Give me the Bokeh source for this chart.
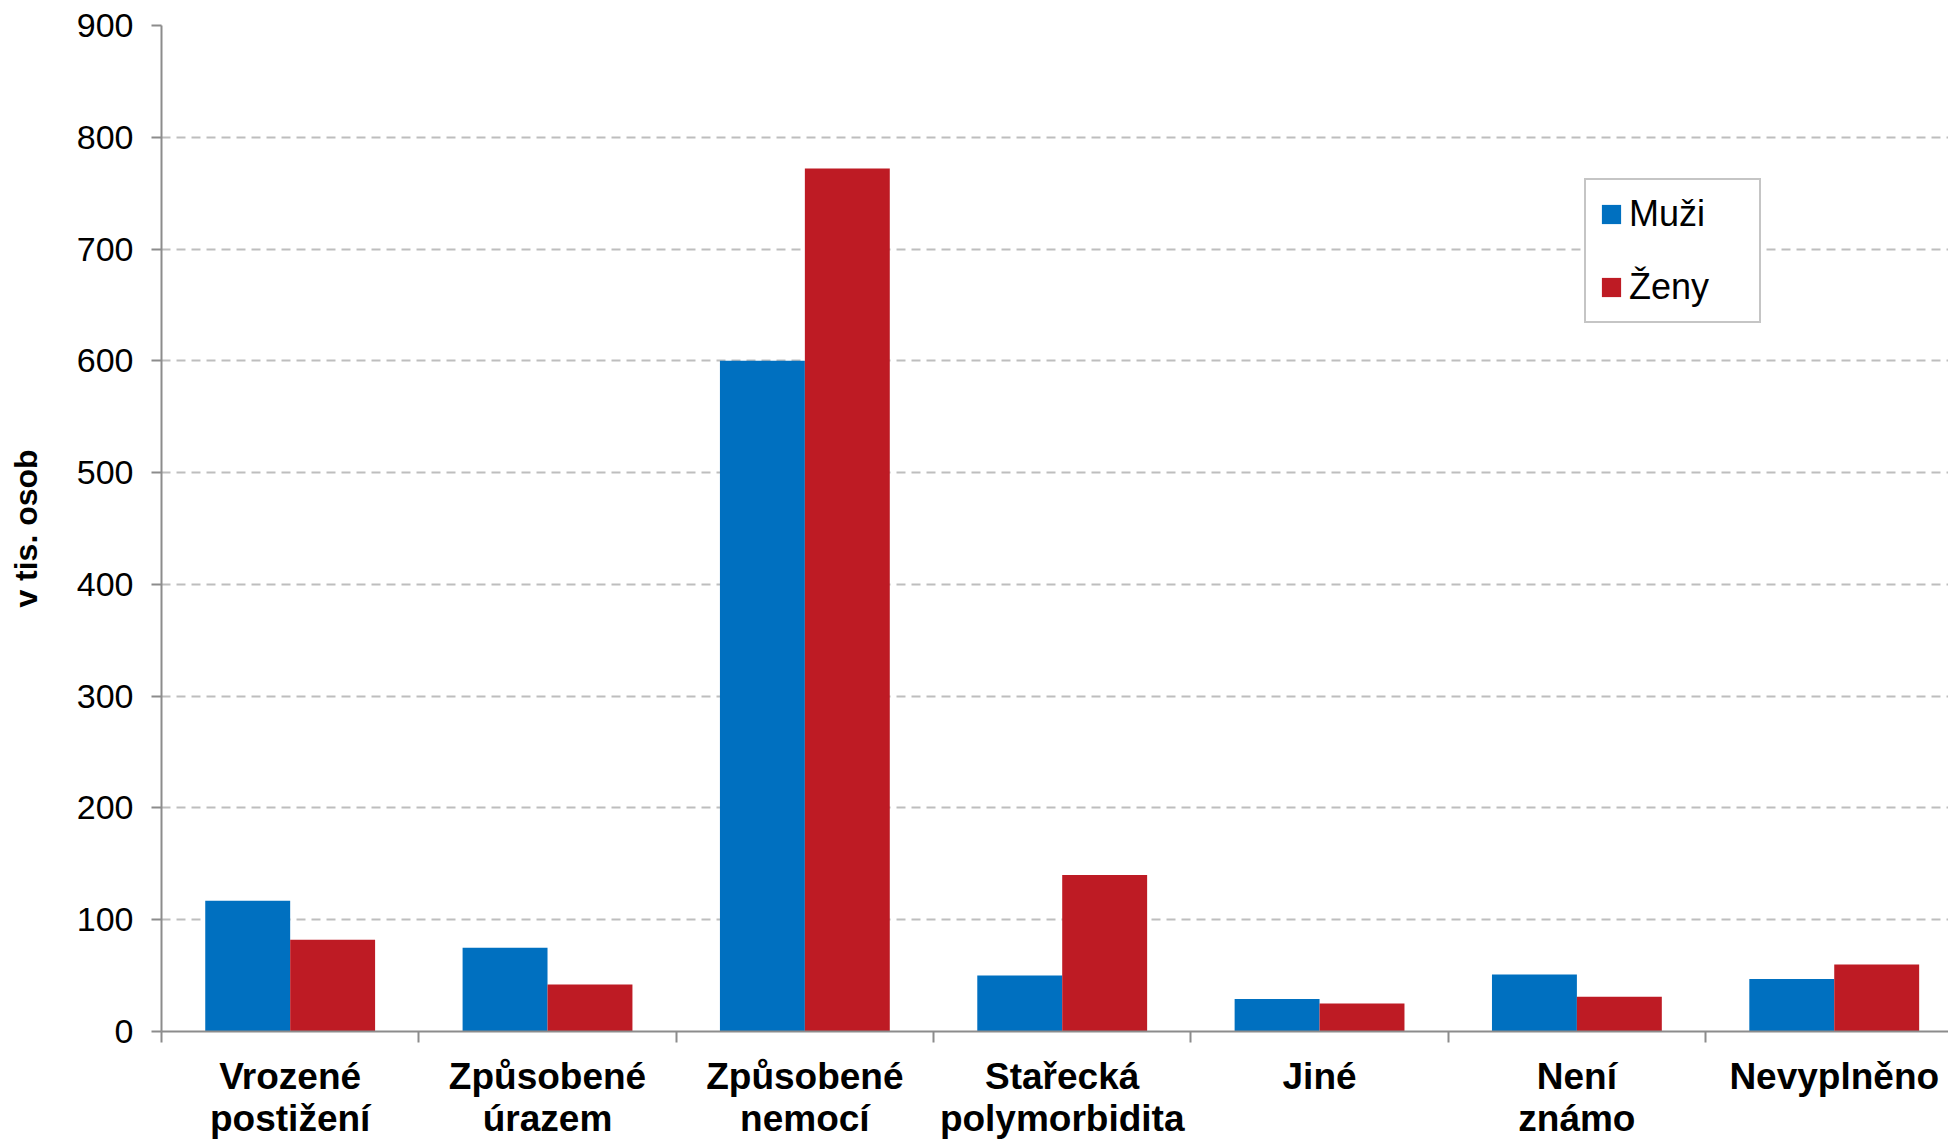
from bokeh.plotting import figure
from bokeh.models import Range1d, FixedTicker, Legend, LegendItem, ColumnDataSource
from bokeh.embed import file_html
from bokeh.resources import INLINE
from bokeh.transform import dodge

categories = ["Vrozené\npostižení", "Způsobené\núrazem", "Způsobené\nnemocí",
              "Stařecká\npolymorbidita", "Jiné", "Není\nznámo", "Nevyplněno"]
muzi = [117, 75, 600, 50, 29, 51, 47]
zeny = [82, 42, 772, 140, 25, 31, 60]
y_ticks = [0, 100, 200, 300, 400, 500, 600, 700, 800, 900]

n = len(categories)
centers = [i + 0.5 for i in range(n)]
bounds = [float(i) for i in range(n + 1)]

src = ColumnDataSource(dict(x=centers, muzi=muzi, zeny=zeny))

FONT = "Liberation Sans"
AXIS_COLOR = "#8C8C8C"

p = figure(width=1948, height=1141, output_backend="svg", toolbar_location=None,
           x_range=Range1d(0, n - 0.056), y_range=Range1d(0, 900),
           min_border_left=161, min_border_top=25, min_border_bottom=109,
           min_border_right=0)
p.outline_line_color = None
p.background_fill_color = "white"
p.border_fill_color = "white"

bw = 0.33
r1 = p.vbar(x=dodge("x", -bw / 2, range=p.x_range), top="muzi", width=bw, source=src,
            fill_color="#0070C0", line_color=None)
r2 = p.vbar(x=dodge("x", bw / 2, range=p.x_range), top="zeny", width=bw, source=src,
            fill_color="#BE1B24", line_color=None)

# x axis
xa = p.xaxis[0]
xa.ticker = FixedTicker(ticks=centers, minor_ticks=bounds)
xa.major_label_overrides = {c: lab for c, lab in zip(centers, categories)}
xa.major_tick_out = 0
xa.major_tick_in = 0
xa.minor_tick_out = 11
xa.minor_tick_in = 0
xa.minor_tick_line_color = AXIS_COLOR
xa.minor_tick_line_width = 2
xa.axis_line_color = AXIS_COLOR
xa.axis_line_width = 2
xa.major_label_text_font = FONT
xa.major_label_text_font_style = "bold"
xa.major_label_text_font_size = "37px"
xa.major_label_text_color = "black"
xa.major_label_standoff = 13
xa.major_label_text_line_height = 1.03

# y axis
ya = p.yaxis[0]
ya.ticker = FixedTicker(ticks=y_ticks)
ya.minor_tick_line_color = None
ya.major_tick_out = 10
ya.major_tick_in = 0
ya.major_tick_line_color = AXIS_COLOR
ya.major_tick_line_width = 2
ya.axis_line_color = AXIS_COLOR
ya.axis_line_width = 2
ya.major_label_text_font = FONT
ya.major_label_text_font_size = "34px"
ya.major_label_text_color = "black"
ya.major_label_standoff = 18
ya.axis_label = "v tis. osob"
ya.axis_label_text_font = FONT
ya.axis_label_text_font_style = "bold"
ya.axis_label_text_font_size = "32px"
ya.axis_label_text_color = "black"
ya.axis_label_standoff = 30

p.xgrid.grid_line_color = None
p.ygrid.grid_line_color = "#BEBEBE"
p.ygrid.grid_line_width = 2
p.ygrid.grid_line_dash = "9 6"

legend = Legend(items=[LegendItem(label="Muži", renderers=[r1]),
                       LegendItem(label="Ženy", renderers=[r2])],
                location=(1423, 708))
legend.label_text_font = FONT
legend.label_text_font_size = "36px"
legend.label_text_color = "black"
legend.glyph_width = 24
legend.glyph_height = 24
legend.label_standoff = 6
legend.spacing = 31
legend.padding = 13
legend.label_width = 117
legend.border_line_color = "#8C8C8C"
legend.border_line_width = 2
legend.background_fill_color = "white"
legend.background_fill_alpha = 1
p.add_layout(legend)

open("out.html", "w").write(file_html(p, INLINE))
